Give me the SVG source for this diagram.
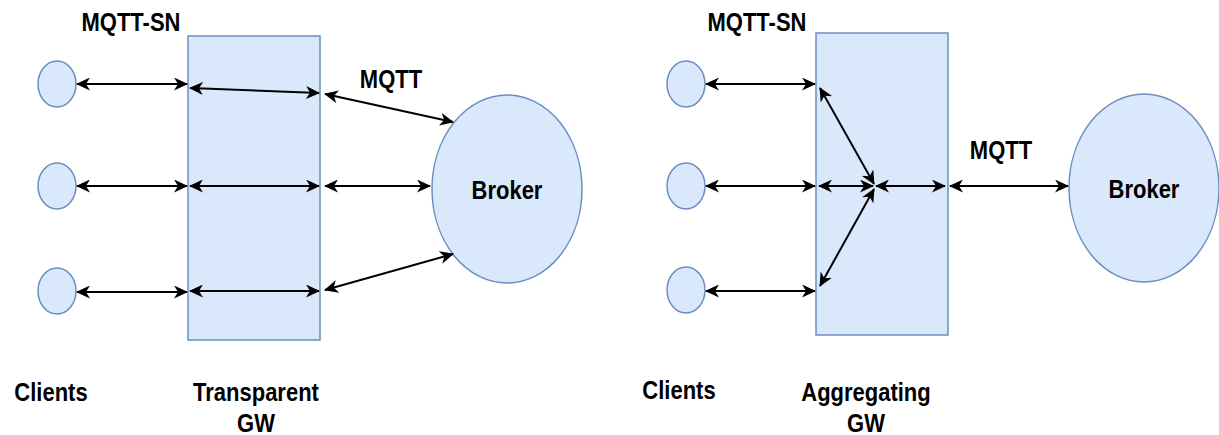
<svg xmlns="http://www.w3.org/2000/svg" width="1219" height="435" viewBox="0 0 1219 435">
  <style>
    .shape { fill: #dae8fc; stroke: #6c8ebf; stroke-width: 1.5; }
    .link { stroke: #000; stroke-width: 2; fill: none; marker-start: url(#head); marker-end: url(#head); }
    .label { font-family: "Liberation Sans", Arial, sans-serif; font-weight: bold; font-size: 22px; fill: #000; text-anchor: middle;
             transform-box: fill-box; transform-origin: center; transform: scaleY(1.15); }
  </style>
  <defs>
    <marker id="head" viewBox="0 0 14 13" refX="13" refY="6.5" markerWidth="14" markerHeight="13" markerUnits="userSpaceOnUse" orient="auto-start-reverse">
      <path d="M0,0 L14,6.5 L0,13 L4,6.5 z" fill="#000"/>
    </marker>
  </defs>
  <rect width="1219" height="435" fill="#fff"/>

  <!-- Transparent gateway side -->
  <g id="gw-transparent">
    <rect class="shape" x="188" y="36" width="132" height="304"/>
    <text class="label" x="256" y="400">Transparent</text>
    <text class="label" x="256" y="431">GW</text>
  </g>
  <g id="client-t1"><ellipse class="shape" cx="57" cy="84" rx="19" ry="23"/></g>
  <g id="client-t2"><ellipse class="shape" cx="57" cy="186" rx="19" ry="23"/></g>
  <g id="client-t3"><ellipse class="shape" cx="57" cy="291" rx="19" ry="23"/></g>
  <g id="broker-t">
    <ellipse class="shape" cx="507" cy="189" rx="75" ry="94"/>
    <text class="label" x="507" y="198">Broker</text>
  </g>
  <g id="labels-t">
    <text class="label" x="131" y="30">MQTT-SN</text>
    <text class="label" x="391" y="87">MQTT</text>
    <text class="label" x="51" y="400">Clients</text>
  </g>

  <!-- Aggregating gateway side -->
  <g id="gw-aggregating">
    <rect class="shape" x="816" y="33" width="132" height="302"/>
    <text class="label" x="866" y="400">Aggregating</text>
    <text class="label" x="866" y="431">GW</text>
  </g>
  <g id="client-a1"><ellipse class="shape" cx="686" cy="84" rx="19" ry="23"/></g>
  <g id="client-a2"><ellipse class="shape" cx="686" cy="186" rx="19" ry="23"/></g>
  <g id="client-a3"><ellipse class="shape" cx="686" cy="290" rx="19" ry="23"/></g>
  <g id="broker-a">
    <ellipse class="shape" cx="1144" cy="188" rx="75" ry="94"/>
    <text class="label" x="1144" y="197">Broker</text>
  </g>
  <g id="labels-a">
    <text class="label" x="757" y="30">MQTT-SN</text>
    <text class="label" x="1001" y="158">MQTT</text>
    <text class="label" x="679" y="398">Clients</text>
  </g>

  <g id="connectors">
    <!-- transparent: one MQTT connection per client -->
    <line class="link" x1="77" y1="84" x2="187" y2="84"/>
    <line class="link" x1="190" y1="88" x2="319" y2="93"/>
    <line class="link" x1="325" y1="94" x2="453" y2="122"/>

    <line class="link" x1="77" y1="186" x2="187" y2="186"/>
    <line class="link" x1="190" y1="186" x2="319" y2="186"/>
    <line class="link" x1="325" y1="186" x2="430" y2="186"/>

    <line class="link" x1="77" y1="292" x2="187" y2="292"/>
    <line class="link" x1="190" y1="291" x2="319" y2="291"/>
    <line class="link" x1="325" y1="290" x2="453" y2="254"/>

    <!-- aggregating: clients merged into a single MQTT connection -->
    <line class="link" x1="706" y1="84" x2="815" y2="84"/>
    <line class="link" x1="706" y1="186" x2="815" y2="186"/>
    <line class="link" x1="706" y1="291" x2="815" y2="291"/>

    <line class="link" x1="874" y1="184" x2="820" y2="88"/>
    <line class="link" x1="874" y1="189" x2="820" y2="286"/>
    <line class="link" x1="819" y1="186" x2="873" y2="186"/>
    <line class="link" x1="876" y1="186" x2="945" y2="186"/>
    <line class="link" x1="950" y1="186" x2="1068" y2="186"/>
  </g>
</svg>
